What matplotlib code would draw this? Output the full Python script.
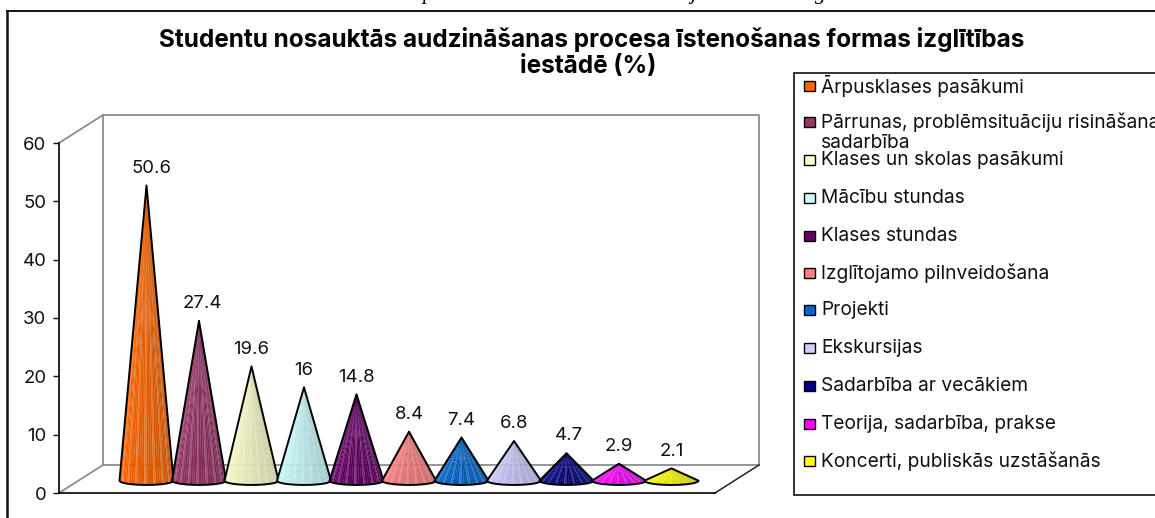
import numpy as np
import matplotlib
matplotlib.use("Agg")
import matplotlib.pyplot as plt
from matplotlib.colors import to_rgb
from matplotlib.patches import Polygon, Rectangle

W = 1155
H = 518

labels = ["Ārpusklases pasākumi",
          "Pārrunas, problēmsituāciju risināšana,\nsadarbība",
          "Klases un skolas pasākumi",
          "Mācību stundas",
          "Klases stundas",
          "Izglītojamo pilnveidošana",
          "Projekti",
          "Ekskursijas",
          "Sadarbība ar vecākiem",
          "Teorija, sadarbība, prakse",
          "Koncerti, publiskās uzstāšanās"]
values = [50.6, 27.4, 19.6, 16, 14.8, 8.4, 7.4, 6.8, 4.7, 2.9, 2.1]
value_text = ["50.6", "27.4", "19.6", "16", "14.8", "8.4", "7.4", "6.8", "4.7", "2.9", "2.1"]
colors = ["#FF6600", "#993366", "#FFFFCC", "#CCFFFF", "#660066", "#FF8080",
          "#0066CC", "#CCCCFF", "#000080", "#FF00FF", "#FFFF00"]
yticks = [0, 10, 20, 30, 40, 50, 60]
title_1 = "Studentu nosauktās audzināšanas procesa īstenošanas formas izglītības"
title_2 = "iestādē (%)"

plt.rcParams['font.family'] = ['Inter', 'Liberation Sans', 'DejaVu Sans']
FS = 13.4

fig = plt.figure(figsize=(W / 100, H / 100), dpi=100)

# page layer in pixels, y going down
page = fig.add_axes([0, 0, 1, 1])
page.set_xlim(0, W)
page.set_ylim(H, 0)
page.axis('off')
page.plot([7, 7], [11, H], color="#111111", lw=1.8)
page.plot([7, W], [11, 11], color="#111111", lw=1.4)
page.text(592, 40, title_1, ha='center', va='center', fontsize=17.5, fontweight='bold')
page.text(588, 66, title_2, ha='center', va='center', fontsize=17.5, fontweight='bold')

# caption cut by the crop: only descenders are visible
for cx, ch in [(428, "p"), (693, "j"), (820, "g")]:
    page.text(cx, -0.5, ch, family="Liberation Serif", style='italic', fontsize=15.5, ha='center',
              va='baseline', clip_on=True)

# legend box
page.add_patch(Rectangle((794, 73), 365, 422, fc='white', ec="#222222", lw=1.3))
leg_y = [86, 122, 160, 198, 236, 273, 310, 348, 386, 424, 461]
for lab, c, ly in zip(labels, colors, leg_y):
    page.add_patch(Rectangle((804, ly - 5), 11, 9.5, fc=c, ec='black', lw=1))
    first = lab.split("\n")
    page.text(821, ly, first[0], fontsize=13.8, va='center', color="#111111", clip_on=True)
    if len(first) > 1:
        page.text(821, ly + 21, first[1], fontsize=13.8, va='center', color="#111111")

# plot axes: y in chart units, x in category slots
x0, x1 = 59, 715
y0, y1 = 493, 143
ax = fig.add_axes([x0 / W, 1 - y0 / H, (x1 - x0) / W, (y0 - y1) / H])
ax.patch.set_alpha(0)
slot = 52.5
ax.set_xlim((x0 - 146.5) / slot, (x1 - 146.5) / slot)
ax.set_ylim(0, 60)
ax.set_xticks([])
ax.set_yticks(yticks)
ax.tick_params(axis='y', length=4, width=1, labelsize=FS, pad=5, colors="#111111")
for s in ['top', 'right']:
    ax.spines[s].set_visible(False)
ax.spines['left'].set_linewidth(1.2)
ax.spines['bottom'].set_linewidth(1.2)

# walls of the 3d box
dx = 44 / slot
dy = 28 / (350 / 60)
xa, xb = ax.get_xlim()
grey = "#8C8C8C"
wall = dict(color=grey, lw=1.3, clip_on=False)
ax.plot([xa + dx, xa + dx, xb + dx, xb + dx], [dy, 60 + dy, 60 + dy, dy], **wall)
ax.plot([xa + dx, xb + dx], [dy, dy], **wall)
ax.plot([xa, xa + dx], [60, 60 + dy], **wall)
ax.plot([xa, xa + dx], [0, dy], **wall)
ax.plot([xb, xb + dx], [0, dy], color="#222222", lw=1.1, clip_on=False)

# cones: shaded facets from the base ellipse up to the apex
base = 13 / (350 / 60) * 0.95
half_w = 27 / slot
half_h = 4.3 / (350 / 60)
n = 36
angles = np.linspace(np.pi, 2 * np.pi, n + 1)
nudge = {0: 0.09, 1: 0.06, 8: 0.05}
for i, (v, c) in enumerate(zip(values, colors)):
    rgb = np.array(to_rgb(c))
    ex = i + half_w * np.cos(angles)
    ey = base + half_h * np.sin(angles)
    apex = (i, base + v)
    for k in range(n):
        t = (k + 0.5) / n
        shade = 1.0 - 0.24 * t
        col = rgb * shade
        if k % 4 == 1:
            col = col + (1 - col) * 0.2
        ax.add_patch(Polygon([(ex[k], ey[k]), (ex[k + 1], ey[k + 1]), apex], closed=True,
                             fc=col, ec=col, lw=0.15, zorder=3 + i))
    out = np.column_stack([np.r_[ex, apex[0]], np.r_[ey, apex[1]]])
    ax.add_patch(Polygon(out, closed=True, fill=False, ec='black', lw=1.4, zorder=3 + i, joinstyle='round'))
    ax.text(i + nudge.get(i, 0), base + v + 1.5, value_text[i], ha='center', va='bottom', fontsize=FS,
            color="#111111", zorder=20)

fig.savefig("out.png", dpi=100)
